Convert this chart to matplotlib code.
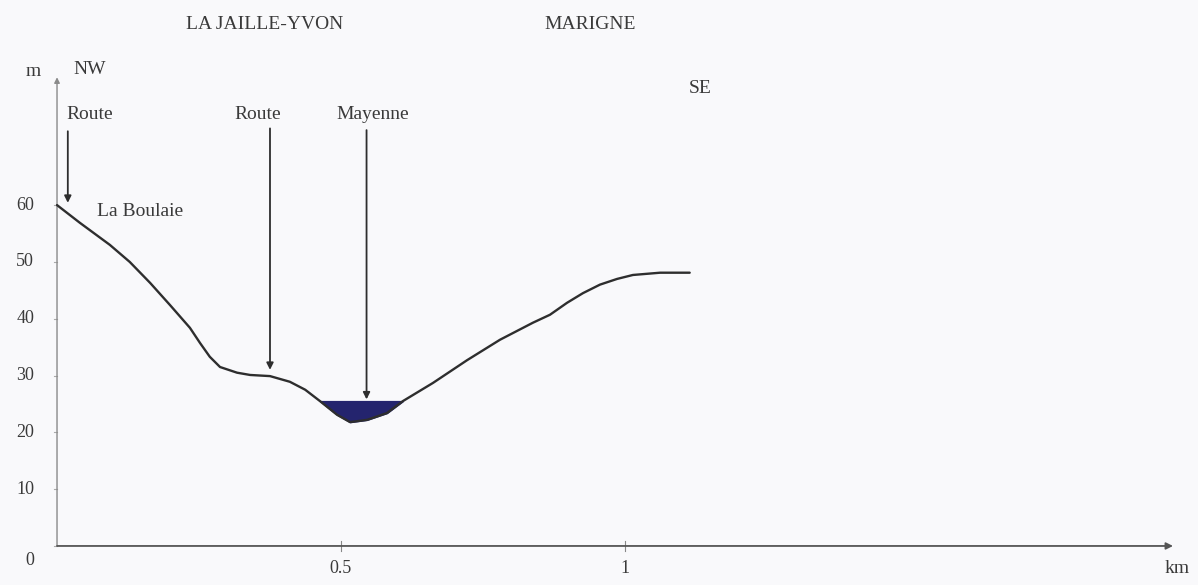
import numpy as np
import matplotlib.pyplot as plt

# profil topographique (km, m)
dist_km = [0.0, 0.040, 0.093, 0.128, 0.164, 0.199, 0.234, 0.252, 0.269, 0.287,
           0.317, 0.340, 0.375, 0.410, 0.437, 0.463, 0.493, 0.516, 0.546, 0.581,
           0.609, 0.662, 0.722, 0.780, 0.838, 0.868, 0.898, 0.926, 0.956, 0.986,
           1.014, 1.062, 1.114]
alt_m = [60.0, 56.9, 53.0, 50.0, 46.3, 42.4, 38.4, 35.7, 33.3, 31.5,
         30.5, 30.1, 29.9, 28.9, 27.5, 25.5, 23.1, 21.8, 22.2, 23.4,
         25.5, 28.7, 32.7, 36.3, 39.3, 40.7, 42.8, 44.5, 46.0, 47.0,
         47.7, 48.1, 48.1]

water_level = 25.5
water_x = (0.463, 0.609)

yticks = [0, 10, 20, 30, 40, 50, 60]
xticks = [0.5, 1]
xtick_labels = ["0.5", "1"]

# fleches : (x, y depart, y arrivee, texte, x du texte)
arrows = [(0.019, 73.0, 60.4, "Route", 0.058),
          (0.375, 73.5, 31.0, "Route", 0.354),
          (0.545, 73.2, 25.8, "Mayenne", 0.556)]

plt.rcParams['font.family'] = ['Liberation Serif', 'DejaVu Serif']
ink = "#2e2e2e"
txt = "#3a3a3a"
fs = 14

fig = plt.figure(figsize=(11.98, 5.85), dpi=100)
fig.patch.set_facecolor("#f9f9fb")
ax = fig.add_axes([0, 0, 1, 1])
ax.set_facecolor("#f9f9fb")
ax.set_xlim(-0.1004, 2.009)
ax.set_ylim(-6.87, 96.1)
ax.axis("off")

# axes avec fleches
ax.annotate("", xy=(0, 82.5), xytext=(0, 0),
            arrowprops=dict(arrowstyle="-|>", color="#8a8a8a", lw=1.0,
                            mutation_scale=8, shrinkA=0, shrinkB=0))
ax.annotate("", xy=(1.965, 0), xytext=(0, 0),
            arrowprops=dict(arrowstyle="-|>", color="#555555", lw=1.3,
                            mutation_scale=10, shrinkA=0, shrinkB=0))

for v in yticks:
    ax.plot([-0.006, 0], [v, v], color="#aaaaaa", lw=0.8)
    if v == 0:
        ax.text(-0.048, -2.5, "0", ha="center", va="center", fontsize=fs - 1, color=txt)
    else:
        ax.text(-0.056, v, str(v), ha="center", va="center", fontsize=fs - 1, color=txt)
for v, t in zip(xticks, xtick_labels):
    ax.plot([v, v], [-0.8, 0.8], color="#888888", lw=0.8)
    ax.text(v, -3.9, t, ha="center", va="center", fontsize=fs - 1, color=txt)

ax.text(-0.042, 83.45, "m", ha="center", va="center", fontsize=fs, color=txt)
ax.text(0.058, 83.8, "NW", ha="center", va="center", fontsize=fs, color=txt)
ax.text(1.132, 80.6, "SE", ha="center", va="center", fontsize=fs, color=txt)
ax.text(1.973, -3.9, "km", ha="center", va="center", fontsize=fs, color=txt)
ax.text(0.366, 91.7, "LA JAILLE-YVON", ha="center", va="center", fontsize=fs, color=txt)
ax.text(0.938, 91.7, "MARIGNE", ha="center", va="center", fontsize=fs, color=txt)
ax.text(0.146, 58.8, "La Boulaie", ha="center", va="center", fontsize=fs, color=txt)

# eau de la Mayenne
px = np.array(dist_km)
py = np.array(alt_m)
m = (px >= water_x[0]) & (px <= water_x[1])
ax.fill_between(px[m], py[m], water_level, color="#24246e", zorder=2)

ax.plot(dist_km, alt_m, color=ink, lw=1.7, zorder=3,
        solid_joinstyle="round", solid_capstyle="round")

for x, y0, y1, label, lx in arrows:
    ax.annotate("", xy=(x, y1), xytext=(x, y0),
                arrowprops=dict(arrowstyle="-|>", color=ink, lw=1.3,
                                mutation_scale=10, shrinkA=0, shrinkB=0), zorder=4)
    ax.text(lx, 75.9, label, ha="center", va="center", fontsize=fs, color=txt)

fig.savefig("out.png", dpi=100, facecolor=fig.get_facecolor())
